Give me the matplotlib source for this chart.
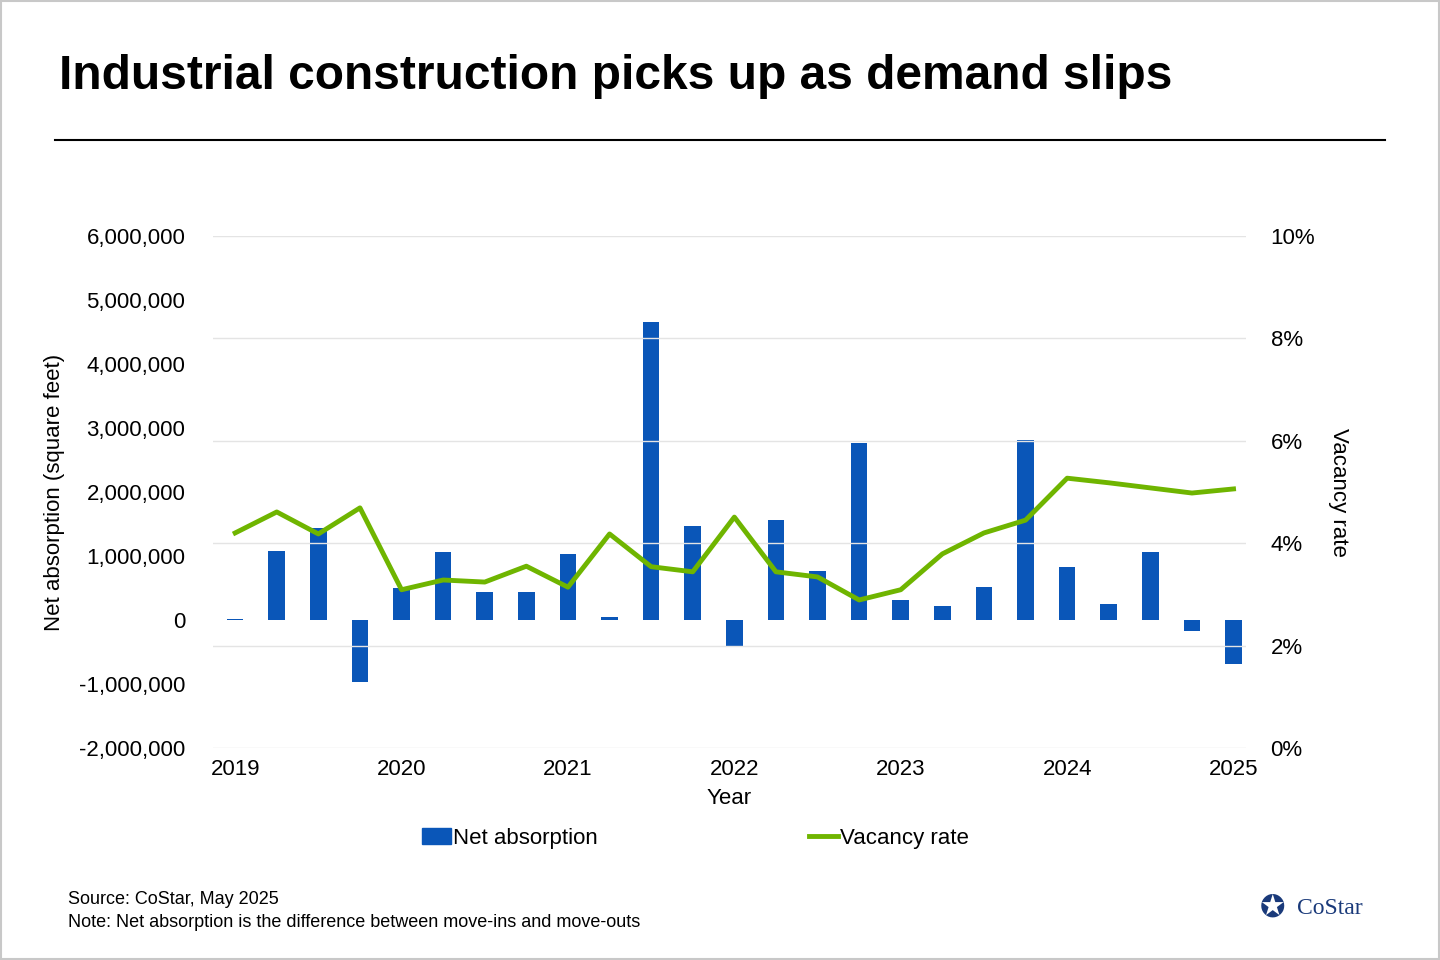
import matplotlib
matplotlib.use("Agg")
import matplotlib.pyplot as plt
from matplotlib.lines import Line2D
from matplotlib.patches import Patch, Rectangle

plt.rcParams['font.family'] = ['Liberation Sans', 'DejaVu Sans']

quarters = list(range(25))
year_labels = ['2019', '2020', '2021', '2022', '2023', '2024', '2025']
net_absorption = [10000, 1080000, 1440000, -970000,
                  500000, 1060000, 440000, 440000,
                  1030000, 50000, 4660000, 1470000,
                  -410000, 1560000, 770000, 2770000,
                  310000, 220000, 520000, 2810000,
                  830000, 250000, 1060000, -170000,
                  -690000]
vacancy = [4.20, 4.61, 4.18, 4.69,
           3.09, 3.28, 3.24, 3.55,
           3.14, 4.18, 3.54, 3.44,
           4.51, 3.44, 3.34, 2.89,
           3.09, 3.79, 4.20, 4.45,
           5.27, 5.18, 5.08, 4.98,
           5.06]

fig = plt.figure(figsize=(14.4, 9.6), dpi=100)
fig.patches.append(Rectangle((0.001, 0.001), 0.998, 0.998, transform=fig.transFigure,
                             fill=False, edgecolor='#c8c8c8', linewidth=1.5))
fig.text(0.041, 0.92, 'Industrial construction picks up as demand slips',
         fontsize=34.5, fontweight='bold', va='center', ha='left')
fig.add_artist(Line2D([0.038, 0.962], [0.854, 0.854], color='black', lw=1.5, transform=fig.transFigure))

ax = fig.add_axes([0.148, 0.221, 0.717, 0.533])
ax2 = ax.twinx()

for y in [0, 2, 4, 6, 8, 10]:
    ax2.axhline(y, color='#e4e4e4', lw=1, zorder=0)
ax.bar(quarters, net_absorption, width=0.4, color='#0a56b8', zorder=2)
ax2.plot(quarters, vacancy, color='#6fb500', lw=3.5, zorder=3)
ax2.set_zorder(ax.get_zorder() + 1)
ax2.patch.set_visible(False)

ax.set_xlim(-0.53, 24.29)
ax.set_ylim(-2000000, 6000000)
ax.set_yticks(range(-2000000, 6000001, 1000000))
ax.set_yticklabels([f'{v:,}' if v != 0 else '0' for v in range(-2000000, 6000001, 1000000)])
ax2.set_ylim(0, 10)
ax2.set_yticks([0, 2, 4, 6, 8, 10])
ax2.set_yticklabels([f'{v}%' for v in [0, 2, 4, 6, 8, 10]])
ax.set_xticks(quarters[::4])
ax.set_xticklabels(year_labels)

for a in (ax, ax2):
    for s in a.spines.values():
        s.set_visible(False)
    a.tick_params(length=0, labelsize=16, pad=20)
ax2.tick_params(pad=18)
ax.tick_params(axis='x', pad=8)
ax.set_xlabel('Year', fontsize=16, labelpad=6)
ax.set_ylabel('Net absorption (square feet)', fontsize=16, labelpad=10)
ax2.set_ylabel('Vacancy rate', fontsize=16, rotation=270, labelpad=24)

handles = [Patch(color='#0a56b8', label='Net absorption'),
           Line2D([], [], color='#6fb500', lw=3.5, label='Vacancy rate')]
fig.legend(handles=handles, loc='center', bbox_to_anchor=(0.483, 0.127), ncol=2,
           frameon=False, fontsize=16, columnspacing=9.5, handlelength=1.3, handletextpad=0.1)

fig.text(0.047, 0.063, 'Source: CoStar, May 2025', fontsize=13, va='center')
fig.text(0.047, 0.039, 'Note: Net absorption is the difference between move-ins and move-outs', fontsize=13, va='center')
fig.text(0.875, 0.054, '✪', fontsize=22, color='#1a3a7a', va='center', family=['DejaVu Sans'])
fig.text(0.901, 0.054, 'CoStar', fontsize=17, color='#1a3a7a', va='center', family=['Liberation Serif'])

fig.savefig('out.png', dpi=100)
